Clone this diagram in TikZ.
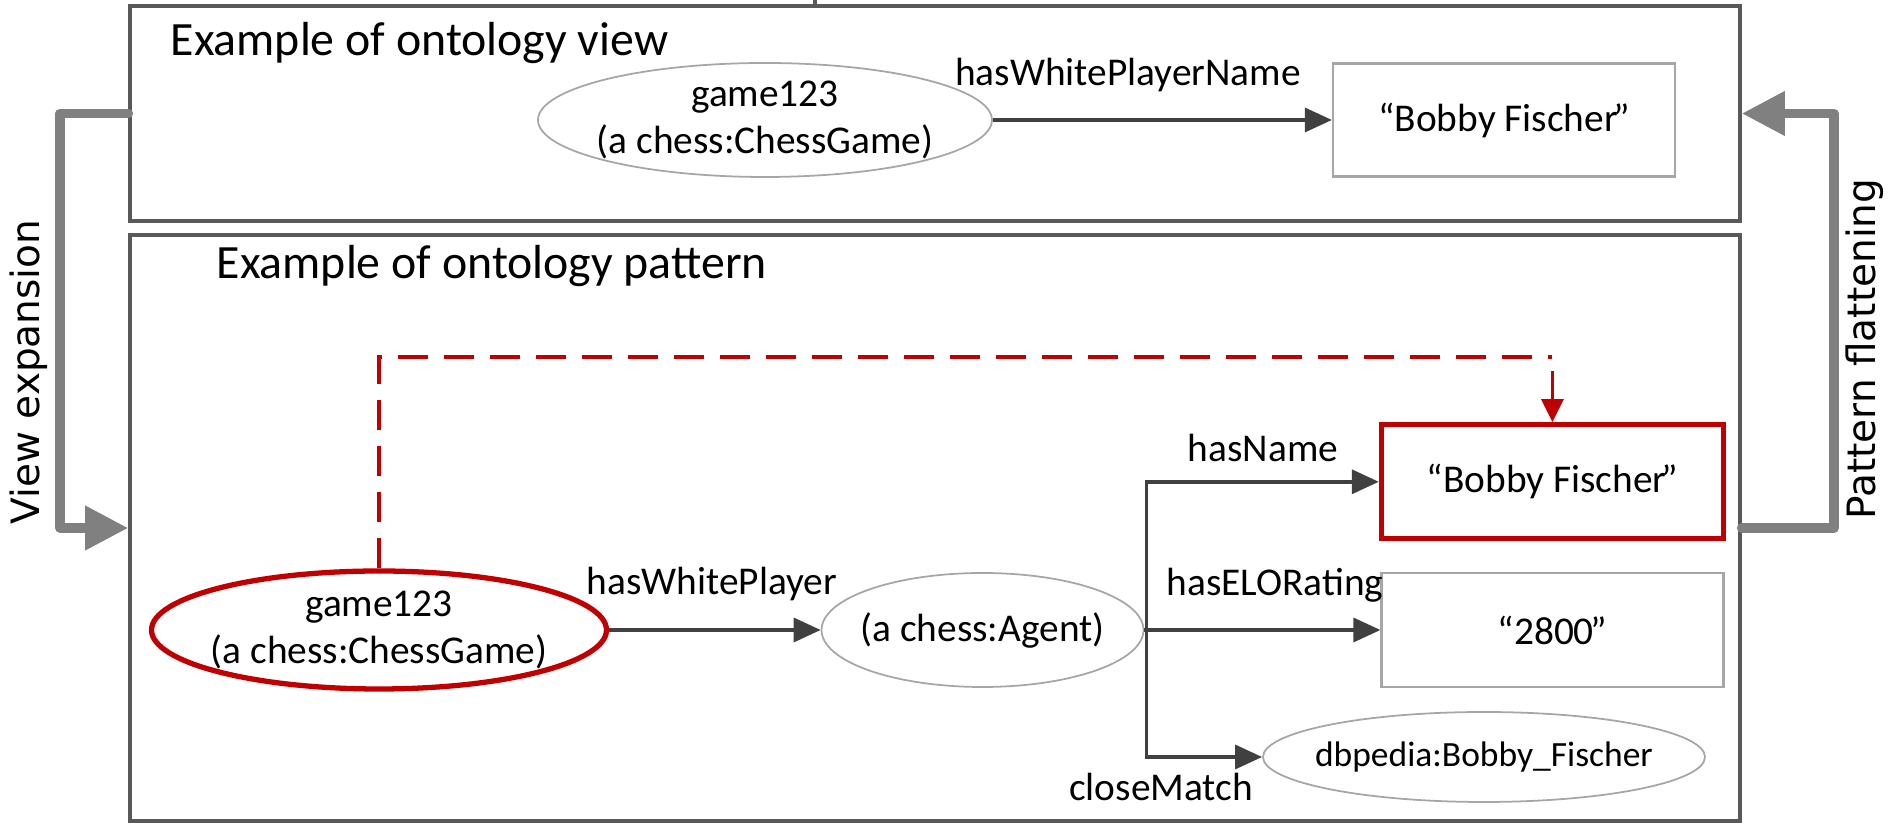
\documentclass[tikz,border=0pt]{standalone}
\usepackage{fontspec}
\setmainfont{Carlito}
\newfontfamily\sidefont{DejaVu Sans}
\usetikzlibrary{shapes.geometric,arrows.meta,positioning}

\definecolor{framegray}{HTML}{595959}
\definecolor{linegray}{HTML}{404040}
\definecolor{thingray}{HTML}{A6A6A6}
\definecolor{flowgray}{HTML}{808080}
\definecolor{darkred}{HTML}{C00000}

\tikzset{
  frame/.style={draw=framegray, line width=1pt, minimum width=16.1cm, inner sep=0},
  cls/.style={ellipse, draw=thingray, line width=0.5pt, inner xsep=-0.09cm, inner ysep=-0.02cm, align=center, font=\fontsize{11.2}{13.4}\selectfont},
  lit/.style={rectangle, draw=thingray, line width=0.6pt, minimum width=3.42cm, minimum height=1.14cm, font=\fontsize{11.2}{13.4}\selectfont},
  lbl/.style={inner sep=0, font=\fontsize{11.2}{13.4}\selectfont},
  title/.style={anchor=west, inner sep=0, font=\fontsize{13.6}{16}\selectfont},
  rel/.style={draw=linegray, line width=1pt, -{Triangle[length=0.27cm,width=0.24cm]}},
  flow/.style={draw=flowgray, line width=2.8pt, line cap=round, line join=round, -{Triangle[length=0.43cm,width=0.42cm]}},
  side/.style={rotate=90, font=\sidefont\fontsize{11.1}{13}\selectfont},
  hot/.style={draw=darkred, line width=1.5pt},
}

\begin{document}
\begin{tikzpicture}
\useasboundingbox (0,0) rectangle (18.9,8.23);
% the two frames
\node[frame, minimum height=2.15cm] (view) at (9.35,7.095) {};
\node[frame, minimum height=5.86cm] (pattern) at (9.35,2.95) {};
\draw[framegray, line width=1pt] ([xshift=-1.2cm]view.north) -- ++(0,0.06);
\node[title] at (1.70,7.80) {Example of ontology view};
\node[title] at (2.16,5.57) {Example of ontology pattern};

% view
\node[cls, minimum width=4.54cm, minimum height=1.14cm] (vgame) at (7.65,7.03) {game123\\(a chess:ChessGame)};
\node[lit, minimum height=1.13cm, right=3.39cm of vgame] (vname) {“Bobby Fischer\kern-.12em”};
\draw[rel] (vgame) -- (vname);
\node[lbl] at (11.28,7.48) {hasWhitePlayerName};

% pattern
\node[cls, hot, minimum width=4.55cm, minimum height=1.18cm] (pgame) at (3.79,1.93) {game123\\(a chess:ChessGame)};
\node[cls, minimum width=3.22cm, minimum height=1.14cm, right=2.115cm of pgame] (agent) {(a chess:Agent)};
\node[lit, right=2.36cm of agent] (elo) {“2800\kern-.08em”};
\node[lit, hot, above=0.305cm of elo] (pname) {“Bobby Fischer\kern-.12em”};
\node[cls, inner xsep=-0.14cm, minimum width=4.42cm, minimum height=0.9cm, font=\fontsize{10.1}{12}\selectfont] (dbp) at (14.84,0.66) {dbpedia:Bobby\_Fischer};

\draw[rel] (pgame) -- (agent);
\node[lbl] at (7.12,2.39) {hasWhitePlayer};
\coordinate (fork) at ([xshift=0.02cm]agent.east);
\draw[rel] (agent.east) -- (elo.west);
\draw[rel] (fork) |- (pname.west);
\draw[rel] (fork) |- (dbp.west);
\node[lbl] at (12.63,3.75) {hasName};
\node[lbl] at (12.75,2.38) {hasELORating};
\node[lbl] at (11.61,0.36) {closeMatch};

% red link
\coordinate (bend) at ([yshift=0.65cm]pname.north);
\draw[hot, line width=1pt, dash pattern=on 0.30cm off 0.16cm] (pgame.north) |- (bend);
\draw[draw=darkred, line width=0.8pt, -{Triangle[length=0.23cm,width=0.22cm]}] ([yshift=-0.14cm]bend) -- (pname.north);

% expansion / flattening
\draw[flow] (view.west) -- ++(-0.68,0) |- (pattern.west);
\draw[flow] (pattern.east) -- ++(0.92,0) |- (view.east);
\node[side] at (0.29,4.51) {View expansion};
\node[side] at (18.65,4.74) {Pattern flattening};
\end{tikzpicture}
\end{document}
